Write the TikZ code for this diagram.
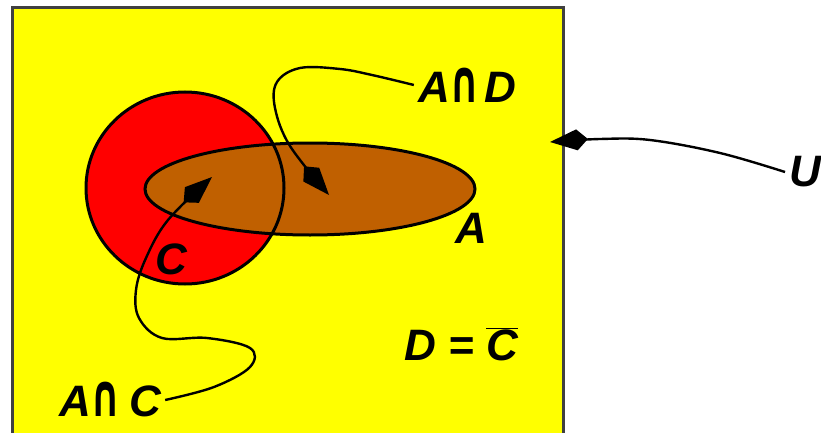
\documentclass[tikz,border=0pt]{standalone}
\usepackage{fontspec}
\setmainfont{Liberation Sans}
\newfontfamily\djv{DejaVu Sans}
\usetikzlibrary{arrows.meta}
\definecolor{uyellow}{RGB}{255,255,0}
\definecolor{cred}{RGB}{255,0,0}
\definecolor{abrown}{RGB}{192,96,0}
\newcommand{\capsym}{\scalebox{0.85}[1.35]{{\djv\bfseries\itshape ∩}}}
\tikzset{
  lbl/.style={font=\fontsize{44}{44}\selectfont\bfseries\itshape, inner sep=4pt},
  outline/.style={draw=black, line width=3pt},
  ptr/.style={line width=2.4pt, -{Kite[length=38pt,width=21pt,inset=11pt]}},
}
\begin{document}
\begin{tikzpicture}[x=1pt,y=-1pt]
\useasboundingbox (0,0) rectangle (821,433);
\begin{scope}
\clip (0,0) rectangle (821,433);
\fill[white] (0,0) rectangle (821,433);
% universe
\draw[fill=uyellow, draw=black!75, line width=3pt] (12,8) rectangle (563,470);
% C and A
\fill[cred] (185,188) ellipse [x radius=99pt, y radius=96pt];
\fill[abrown] (310,189) ellipse [x radius=165pt, y radius=46pt];
\draw[outline] (185,188) ellipse [x radius=99pt, y radius=96pt];
\draw[outline] (310,189) ellipse [x radius=165pt, y radius=46pt];
% labels
\node[lbl] (AD) at (467,85) {A\capsym\kern4pt D};
\node[lbl] (A) at (471,228) {A};
\node[lbl] (C) at (171,259) {C};
\node[lbl, anchor=base] (DC) at (461,360) {D = $\overline{\hbox{C}}$};
\node[lbl] (AC) at (110,400) {A\capsym\kern8pt C};
\node[lbl, anchor=west] (U) at (785,172) {U};
% tips
\coordinate (tipAD) at (329,195);
\coordinate (tipAC) at (212,177);
\coordinate (tipU) at (550,142);
% connectors
\draw[ptr] plot[smooth, tension=0.6] coordinates {(AD.west) (372,75) (340,69) (300,68) (277,82) (275,108) (290,146) (tipAD)};
\draw[ptr] plot[smooth, tension=0.6] coordinates {(AC.east) (214,387) (250,367) (250,348) (207,338) (162,338) (139,318) (136,290) (146,258) (168,220) (tipAC)};
\draw[ptr] plot[smooth, tension=0.6] coordinates {(U.west) (720,153) (650,140) (600,139) (tipU)};
\end{scope}
\end{tikzpicture}
\end{document}
